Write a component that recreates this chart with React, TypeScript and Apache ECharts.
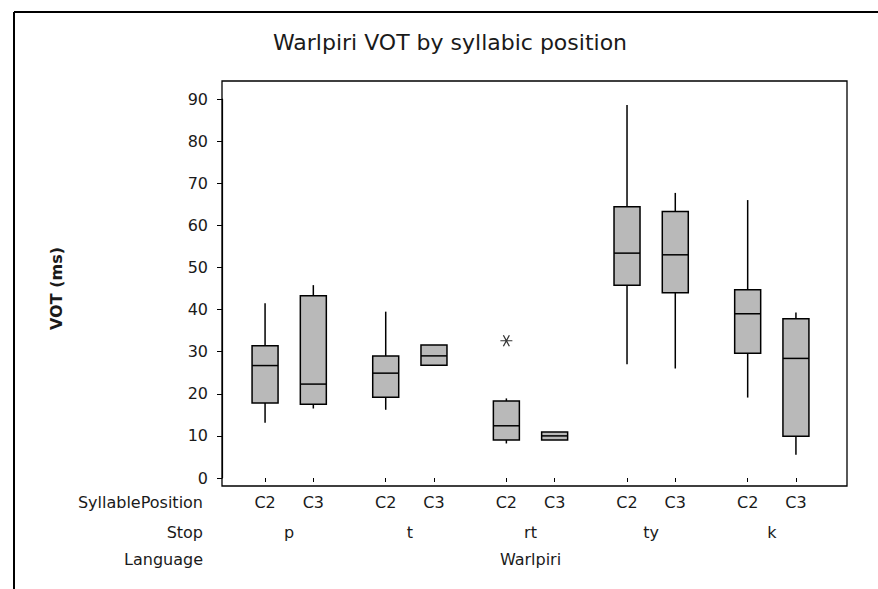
import React, { useEffect, useRef } from "react";
import * as echarts from "echarts";

// ---- data ----
const stops = ["p", "t", "rt", "ty", "k"];
const positions = ["C2", "C3"];
const language = "Warlpiri";
// order: p C2, p C3, t C2, t C3, rt C2, rt C3, ty C2, ty C3, k C2, k C3
const whiskerLow = [13.1, 16.5, 16.2, 26.8, 8.2, 9.0, 27.0, 26.0, 19.1, 5.5];
const q1 = [17.8, 17.5, 19.2, 26.8, 9.0, 9.0, 45.8, 44.0, 29.6, 9.9];
const median = [26.7, 22.3, 24.9, 29.0, 12.4, 10.0, 53.4, 53.0, 39.0, 28.4];
const q3 = [31.4, 43.3, 29.0, 31.6, 18.3, 10.9, 64.4, 63.3, 44.7, 37.8];
const whiskerHigh = [41.5, 45.8, 39.5, 31.6, 18.9, 10.9, 88.6, 67.7, 66.0, 39.3];
const outlierStops = ["rt"];
const outlierPositions = ["C2"];
const outlierValues = [32.6];
const yMin = 0;
const yMax = 90;
const yStep = 10;
const rowTitles = ["SyllablePosition", "Stop", "Language"];
const title = "Warlpiri VOT by syllabic position";
const yName = "VOT (ms)";

// ---- slot layout (C2, C3 two slots apart, groups five slots apart) ----
const STRIDE = 5;
const PAIR = 2;
const nSlots = (stops.length - 1) * STRIDE + PAIR + 1;
const slotOf = (g: number, p: number) => g * STRIDE + p * PAIR;
const slotKeys = Array.from({ length: nSlots }, (_, i) => String(i));
const posRow: string[] = Array(nSlots).fill("");
const stopRow: string[] = Array(nSlots).fill("");
const langRow: string[] = Array(nSlots).fill("");
stops.forEach((s, g) => {
  positions.forEach((p, i) => {
    posRow[slotOf(g, i)] = p;
  });
  stopRow[slotOf(g, 0) + PAIR / 2] = s;
});
langRow[Math.floor((nSlots - 1) / 2)] = language;

const boxData: number[][] = [];
stops.forEach((s, g) => {
  positions.forEach((p, i) => {
    const k = g * positions.length + i;
    boxData.push([slotOf(g, i), whiskerLow[k], q1[k], median[k], q3[k], whiskerHigh[k]]);
  });
});
const outlierData = outlierValues.map((v, i) => [
  slotOf(stops.indexOf(outlierStops[i]), positions.indexOf(outlierPositions[i])),
  v,
]);

const FONT = "DejaVu Sans";
const TXT = "#1a1a1a";
const BOX_HALF = 13;

export default function App() {
  const ref = useRef<HTMLDivElement>(null);
  useEffect(() => {
    if (!ref.current) return;
    const chart = echarts.init(ref.current, undefined, { renderer: "svg" });
    const rows = [posRow, stopRow, langRow];
    const offsets = [8, 38, 65];
    const xAxes = rows.map((row, r) => ({
      type: "category",
      gridIndex: 0,
      position: "bottom",
      offset: offsets[r],
      data: slotKeys,
      boundaryGap: true,
      axisLine: { show: false },
      axisTick: {
        show: r === 0,
        alignWithLabel: true,
        length: 4,
        interval: (i: number) => posRow[i] !== "",
        lineStyle: { color: "#000", width: 1 },
      },
      axisLabel: {
        interval: 0,
        margin: 8,
        color: TXT,
        fontFamily: FONT,
        fontSize: 16,
        formatter: (_v: string, i: number) => row[i],
      },
      splitLine: { show: false },
    }));
    const option: any = {
      animation: false,
      backgroundColor: "#fff",
      grid: { left: 253, right: 70, top: 99, bottom: 111, containLabel: false },
      xAxis: xAxes,
      yAxis: {
        type: "value",
        min: yMin,
        max: yMax,
        interval: yStep,
        offset: 31,
        axisLine: { show: true, lineStyle: { color: "#000", width: 1.2 } },
        axisTick: { show: true, length: 5, lineStyle: { color: "#000" } },
        axisLabel: { margin: 14, color: TXT, fontFamily: FONT, fontSize: 16 },
        splitLine: { show: false },
        name: yName,
        nameLocation: "middle",
        nameGap: 158,
        nameTextStyle: { fontFamily: FONT, fontSize: 16, fontWeight: "bold", color: TXT },
      },
      graphic: [
        { type: "line", shape: { x1: 14, y1: 12, x2: 878, y2: 12 }, style: { stroke: "#000", lineWidth: 2 } },
        { type: "line", shape: { x1: 14, y1: 12, x2: 14, y2: 589 }, style: { stroke: "#000", lineWidth: 2 } },
        {
          type: "rect",
          shape: { x: 222, y: 81, width: 625, height: 405 },
          style: { fill: "none", stroke: "#000", lineWidth: 1.3 },
          z: 10,
        },
        {
          type: "text",
          x: 450,
          y: 42,
          style: {
            text: title,
            align: "center",
            verticalAlign: "middle",
            font: `22px "${FONT}"`,
            fill: TXT,
          },
        },
        ...rowTitles.map((t, r) => ({
          type: "text",
          x: 203,
          y: 478 + offsets[r] + 8,
          style: {
            text: t,
            align: "right",
            verticalAlign: "top",
            font: `16px "${FONT}"`,
            fill: TXT,
          },
        })),
      ],
      series: [
        {
          type: "custom",
          xAxisIndex: 0,
          encode: { x: 0, y: [1, 2, 3, 4, 5] },
          data: boxData,
          renderItem: (_params: any, api: any) => {
            const x = api.value(0);
            const lo = api.coord([x, api.value(1)]);
            const b1 = api.coord([x, api.value(2)]);
            const md = api.coord([x, api.value(3)]);
            const b3 = api.coord([x, api.value(4)]);
            const hi = api.coord([x, api.value(5)]);
            const cx = lo[0];
            const ls = { stroke: "#000", lineWidth: 1.5 };
            return {
              type: "group",
              children: [
                { type: "line", shape: { x1: cx, y1: b1[1], x2: cx, y2: lo[1] }, style: ls },
                { type: "line", shape: { x1: cx, y1: b3[1], x2: cx, y2: hi[1] }, style: ls },
                {
                  type: "rect",
                  shape: { x: cx - BOX_HALF, y: b3[1], width: 2 * BOX_HALF, height: b1[1] - b3[1] },
                  style: { fill: "#b9b9b9", stroke: "#000", lineWidth: 1.5 },
                },
                {
                  type: "line",
                  shape: { x1: cx - BOX_HALF, y1: md[1], x2: cx + BOX_HALF, y2: md[1] },
                  style: ls,
                },
              ],
            };
          },
        },
        {
          type: "scatter",
          xAxisIndex: 0,
          data: outlierData,
          symbol: "path://M-6,0L6,0M-3,-5.2L3,5.2M-3,5.2L3,-5.2",
          symbolSize: [12, 11],
          itemStyle: { color: "transparent", borderColor: "#000", borderWidth: 1.2 },
        },
      ],
    };
    chart.setOption(option);
    return () => chart.dispose();
  }, []);
  return (
    <div
      ref={ref}
      style={{ position: "absolute", left: 0, top: 0, width: 878, height: 589, background: "#fff" }}
    />
  );
}
